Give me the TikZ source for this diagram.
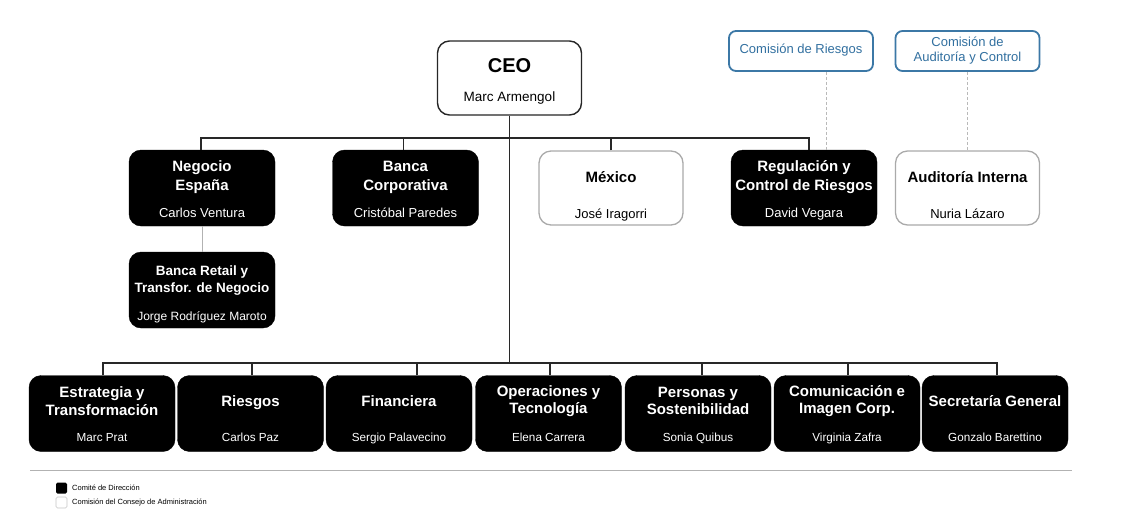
\documentclass[tikz,border=0pt]{standalone}
\usepackage{fontspec}
\setmainfont{Liberation Sans}
\definecolor{comblue}{RGB}{60,120,166}
\definecolor{comtext}{RGB}{50,112,160}
\definecolor{wborder}{RGB}{170,170,170}
\definecolor{linegray}{RGB}{40,40,40}
\begin{document}
\begin{tikzpicture}[x=1pt,y=-1pt,
  blkbox/.style={draw=black,fill=black,rounded corners=12pt,minimum width=146pt,minimum height=76pt,inner sep=0pt},
  whtbox/.style={draw=wborder,fill=white,line width=1.3pt,rounded corners=12pt,minimum width=144pt,minimum height=74pt,inner sep=0pt},
  ceobox/.style={draw=black!85,fill=white,line width=1.4pt,rounded corners=12pt,minimum width=144pt,minimum height=74pt,inner sep=0pt},
  combox/.style={draw=comblue,fill=white,line width=1.8pt,rounded corners=7pt,minimum width=144pt,minimum height=40pt,inner sep=0pt},
  ttl/.style={font=\bfseries\fontsize{15}{19}\selectfont},
  nme/.style={font=\fontsize{13}{15}\selectfont},
  blktitle/.style={ttl,text=white,align=center,inner sep=0pt},
  whttitle/.style={ttl,text=black,align=center,inner sep=0pt},
  blkname/.style={nme,text=white,inner sep=0pt},
  whtname/.style={nme,text=black,inner sep=0pt},
  comtxt/.style={font=\fontsize{13}{15.5}\selectfont,text=comtext,align=center,inner sep=0pt},
  orgline/.style={draw=linegray,line width=1.1pt},
  subline/.style={draw=gray!60,line width=0.8pt},
  dashline/.style={draw=gray!55,line width=0.8pt,dash pattern=on 3pt off 2pt},
  legsq/.style={minimum width=11pt,minimum height=11pt,inner sep=0pt,rounded corners=1.5pt},
  legtxt/.style={font=\fontsize{7.5}{9}\selectfont,inner sep=0pt,anchor=west}
]
\useasboundingbox (0,0) rectangle (1126,531);

\newcommand\orgunit[8]{%
  \node[#4box] (#1) at (#2,#3) {};
  \node[#4title] (#1t) at (#2,#5) {#6};
  \node[#4name,anchor=base] (#1n) at (#2,#7) {#8};
}

% CEO
\node[ceobox] (ceo) at (509.5,78) {};
\node[whttitle,font=\bfseries\fontsize{20}{22}\selectfont] (ceot) at (509.5,66) {CEO};
\node[whtname,font=\fontsize{13.5}{15}\selectfont,anchor=base] (ceon) at (509.5,101) {Marc Armengol};

% Commissions
\node[combox] (comr) at (801,51) {};
\node[comtxt] (comrt) at (801,50) {Comisión de Riesgos};
\node[combox] (coma) at (967.5,51) {};
\node[comtxt] (comat) at (967.5,50.5) {Comisión de\\Auditoría y Control};

% Row 2
\orgunit{neg}{202}{188}{blk}{177}{Negocio\\España}{217.5}{Carlos Ventura}
\orgunit{bco}{405.5}{188}{blk}{177}{Banca\\Corporativa}{217.5}{Cristóbal Paredes}
\orgunit{mex}{611}{188}{wht}{177}{México}{218}{José Iragorri}
\orgunit{reg}{804}{188}{blk}{177}{Regulación y\\Control de Riesgos}{217.5}{David Vegara}
\orgunit{aud}{967.5}{188}{wht}{177}{Auditoría Interna}{218}{Nuria Lázaro}

% Banca Retail
\begin{scope}[ttl/.style={font=\bfseries\fontsize{13.5}{16.5}\selectfont},nme/.style={font=\fontsize{12}{14}\selectfont}]
\orgunit{ret}{202}{290}{blk}{280.5}{Banca Retail y\\Transfor. de Negocio}{320}{Jorge Rodríguez Maroto}
\end{scope}

% Bottom row
\begin{scope}[ttl/.style={font=\bfseries\fontsize{15}{17.5}\selectfont},nme/.style={font=\fontsize{11.7}{14}\selectfont}]
\orgunit{est}{102}{413.5}{blk}{401}{Estrategia y\\Transformación}{441}{Marc Prat}
\orgunit{rie}{250.5}{413.5}{blk}{403}{Riesgos}{441}{Carlos Paz}
\orgunit{fin}{399}{413.5}{blk}{401}{Financiera}{441}{Sergio Palavecino}
\orgunit{ope}{548.5}{413.5}{blk}{401}{Operaciones y\\Tecnología}{441}{Elena Carrera}
\orgunit{per}{698}{413.5}{blk}{401}{Personas y\\Sostenibilidad}{441}{Sonia Quibus}
\orgunit{com}{847}{413.5}{blk}{401}{Comunicación e\\Imagen Corp.}{441}{Virginia Zafra}
\orgunit{sec}{995}{413.5}{blk}{401}{Secretaría General}{441}{Gonzalo Barettino}
\end{scope}

% Hubs
\coordinate (hubtop) at (509.5,138);
\coordinate (hubbot) at (509.5,363);

% Connectors
\draw[orgline] (ceo.south) -- (hubbot);
\draw[orgline] ([xshift=-1pt]neg.north) |- (hubtop) -| ([xshift=5pt]reg.north);
\draw[orgline] ([xshift=-2pt]bco.north) -- ([xshift=-2pt]bco.north |- hubtop);
\draw[orgline] (mex.north) -- (mex.north |- hubtop);

\draw[orgline] ([xshift=1pt]est.north) |- (hubbot) -| ([xshift=2pt]sec.north);
\draw[orgline] ([xshift=1.5pt]rie.north) -- ([xshift=1.5pt]rie.north |- hubbot);
\draw[orgline] ([xshift=18pt]fin.north) -- ([xshift=18pt]fin.north |- hubbot);
\draw[orgline] ([xshift=1.5pt]ope.north) -- ([xshift=1.5pt]ope.north |- hubbot);
\draw[orgline] ([xshift=4pt]per.north) -- ([xshift=4pt]per.north |- hubbot);
\draw[orgline] ([xshift=1pt]com.north) -- ([xshift=1pt]com.north |- hubbot);

\draw[subline] (neg.south) -- (ret.north);

\draw[dashline] ([xshift=25pt]comr.south) -- ([xshift=25pt]comr.south |- reg.north);
\draw[dashline] (coma.south) -- (aud.north);

% Legend
\coordinate (sepL) at (30,470);
\coordinate (sepR) at (1072,470);
\draw[draw=gray!60,line width=0.9pt] (sepL) -- (sepR);
\node[legsq,fill=black] (lg1) at (61.5,488) {};
\node[legsq,fill=white,draw=gray!45,line width=0.6pt] (lg2) at (61.5,502.5) {};
\node[legtxt] (lg1t) at (72,488) {Comité de Dirección};
\node[legtxt] (lg2t) at (72,503) {Comisión del Consejo de Administración};
\end{tikzpicture}
\end{document}
